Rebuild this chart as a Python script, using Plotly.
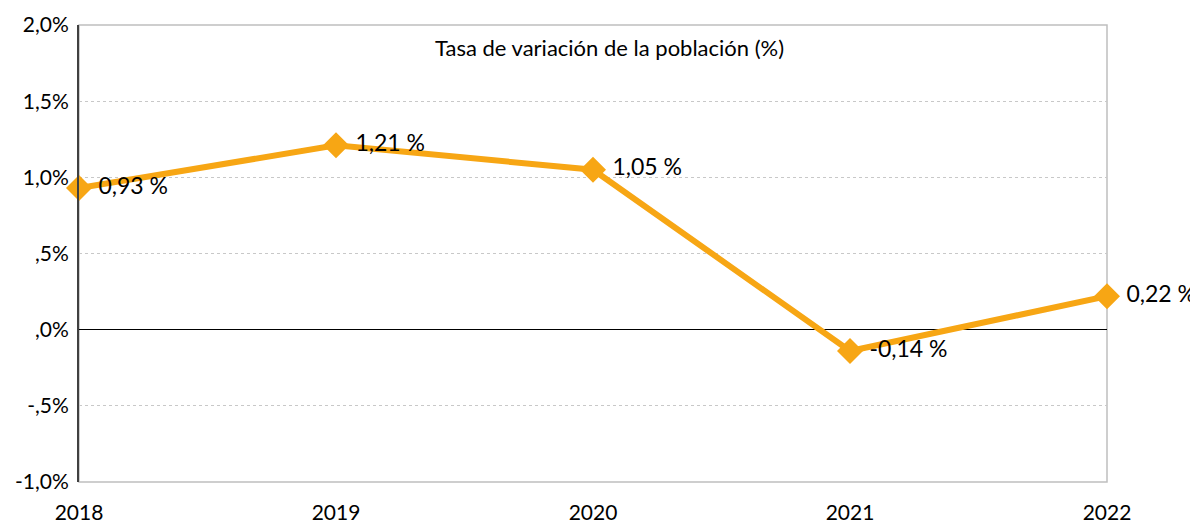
import plotly.graph_objects as go

years = [2018, 2019, 2020, 2021, 2022]
values = [0.93, 1.21, 1.05, -0.14, 0.22]
labels = ["0,93 %", "1,21 %", "1,05 %", "-0,14 %", "0,22 %"]
y_tickvals = [2.0, 1.5, 1.0, 0.5, 0.0, -0.5, -1.0]
y_ticktext = ["2,0%", "1,5%", "1,0%", ",5%", ",0%", "-,5%", "-1,0%"]
title_text = "Tasa de variación de la población (%)"

FONT = "Lato"
ORANGE = "#F7A614"

fig = go.Figure()
fig.add_trace(go.Scatter(
    x=years, y=values, mode="lines+markers+text",
    line=dict(color=ORANGE, width=6),
    marker=dict(symbol="diamond", size=20, color=ORANGE),
    text=[" " + t for t in labels], textposition="middle right",
    textfont=dict(family=FONT, size=23, color="#000000"),
    cliponaxis=False, hoverinfo="skip",
))

# page body adds an 8px offset, so the figure is sized to fit the window
fig.update_layout(
    width=1190, height=517,
    margin=dict(l=71, r=91, t=17, b=43, autoexpand=False),
    paper_bgcolor="white", plot_bgcolor="white",
    showlegend=False,
    font=dict(family=FONT, size=21, color="#000000"),
    xaxis=dict(
        range=[2018, 2022], tickvals=years, ticktext=[str(y) for y in years],
        showgrid=False, zeroline=False, showline=False, automargin=False,
        ticks="outside", ticklen=12, tickcolor="rgba(0,0,0,0)",
        tickfont=dict(family=FONT, size=21),
    ),
    yaxis=dict(
        range=[-1.0, 2.0], tickvals=y_tickvals, ticktext=y_ticktext,
        showgrid=True, gridcolor="#C8C8C8", griddash="dot", gridwidth=1,
        zeroline=True, zerolinecolor="#000000", zerolinewidth=1,
        showline=True, linecolor="#404040", linewidth=2, automargin=False,
        ticks="outside", ticklen=4, tickcolor="rgba(0,0,0,0)",
        tickfont=dict(family=FONT, size=21),
    ),
    shapes=[dict(type="rect", xref="paper", yref="paper", x0=0, x1=1, y0=0, y1=1,
                 line=dict(color="#BFBFBF", width=1.5), layer="below")],
    annotations=[dict(text=title_text, xref="paper", yref="paper", x=0.516, y=0.95,
                      showarrow=False, xanchor="center", yanchor="middle",
                      font=dict(family=FONT, size=22, color="#000000"))],
)

fig.write_html("out.html")
